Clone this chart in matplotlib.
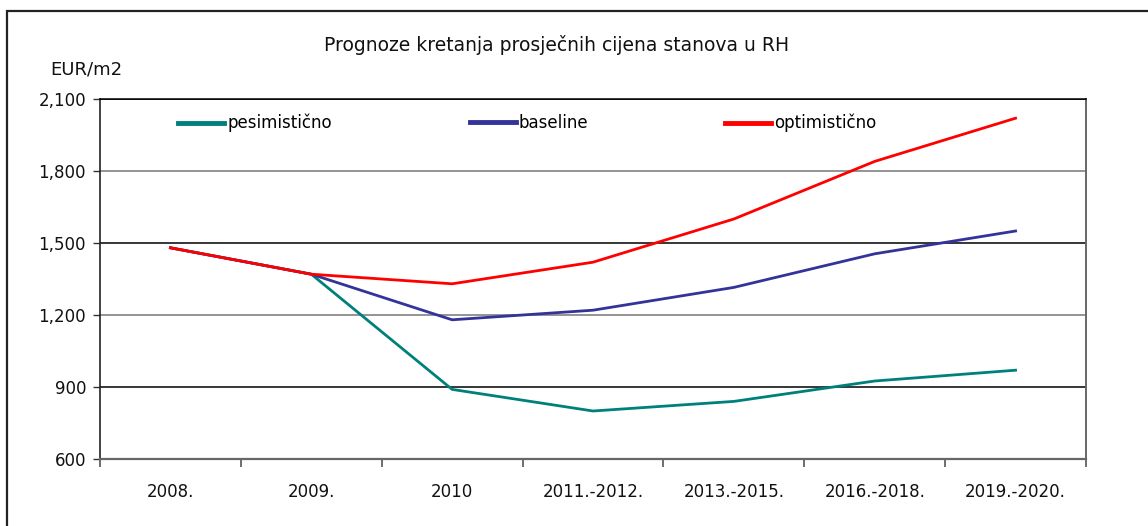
import matplotlib
matplotlib.use("Agg")
import matplotlib.pyplot as plt
from matplotlib.lines import Line2D
from matplotlib.legend import Legend
from matplotlib.patches import Rectangle

categories = ["2008.", "2009.", "2010", "2011.-2012.", "2013.-2015.", "2016.-2018.", "2019.-2020."]
pesimisticno = [1480, 1370, 890, 800, 840, 925, 970]
baseline = [1480, 1370, 1180, 1220, 1315, 1455, 1550]
optimisticno = [1480, 1370, 1330, 1420, 1600, 1840, 2020]
y_ticks = [600, 900, 1200, 1500, 1800, 2100]
y_labels = ["600", "900", "1,200", "1,500", "1,800", "2,100"]

plt.rcParams['font.family'] = ['DejaVu Sans']

W, H = 1148, 526
fig = plt.figure(figsize=(W / 100, H / 100), dpi=100)
fig.patch.set_facecolor("white")

# outer frame
fig.add_artist(Rectangle((7 / W, -0.05), 1.2, 1 - 11 / H + 0.05, transform=fig.transFigure,
                         fill=False, edgecolor="#222222", linewidth=1.6))

ax = fig.add_axes([100 / W, 1 - 459 / H, (1086 - 100) / W, (459 - 99) / H])
x = list(range(len(categories)))

teal = "#00807a"
blue = "#333399"
red = "#ff0000"

# gridlines (alternating dark / gray as in reference)
for i, yv in enumerate(y_ticks):
    ax.axhline(yv, color="#000000" if i % 2 == 1 else "#777777", linewidth=1.1, zorder=1)

l1, = ax.plot(x, pesimisticno, color=teal, linewidth=2.0, zorder=3, solid_joinstyle="round")
l2, = ax.plot(x, baseline, color=blue, linewidth=2.0, zorder=4, solid_joinstyle="round")
l3, = ax.plot(x, optimisticno, color=red, linewidth=2.0, zorder=5, solid_joinstyle="round")

ax.set_xlim(-0.5, len(categories) - 0.5)
ax.set_ylim(600, 2100)
ax.set_yticks(y_ticks)
ax.set_yticklabels(y_labels, fontsize=12, color="#111111")
ax.set_xticks([i - 0.5 for i in range(len(categories) + 1)])
ax.set_xticklabels([])
ax.set_xticks(x, minor=True)
ax.set_xticklabels(categories, minor=True, fontsize=12, color="#111111")
ax.tick_params(axis="x", which="minor", length=0, pad=17)
ax.tick_params(axis="x", which="major", length=6, width=1.2, color="#555555", direction="out")
ax.tick_params(axis="y", length=5, width=1.0, color="#333333", pad=5)

ax.spines["left"].set_color("#222222")
ax.spines["left"].set_linewidth(1.2)
ax.spines["right"].set_color("#666666")
ax.spines["right"].set_linewidth(1.4)
ax.spines["bottom"].set_color("#666666")
ax.spines["bottom"].set_linewidth(1.6)
ax.spines["top"].set_color("#000000")
ax.spines["top"].set_linewidth(1.1)

# legend entries
for handle, label, xpos in [(l1, "pesimistično", 0.079), (l2, "baseline", 0.375), (l3, "optimistično", 0.634)]:
    h = Line2D([], [], color=handle.get_color(), linewidth=3.5)
    leg = Legend(ax, [h], [label], loc="center left", bbox_to_anchor=(xpos, 0.933),
                 frameon=False, fontsize=12, handlelength=2.75, handletextpad=0.2,
                 borderaxespad=0, borderpad=0)
    ax.add_artist(leg)

fig.text(557 / W, 1 - 45 / H, "Prognoze kretanja prosječnih cijena stanova u RH",
         ha="center", va="center", fontsize=13.5, color="#111111")
fig.text(50 / W, 1 - 70 / H, "EUR/m2", ha="left", va="center", fontsize=13, color="#111111")

fig.savefig("out.png", dpi=100, facecolor="white")
